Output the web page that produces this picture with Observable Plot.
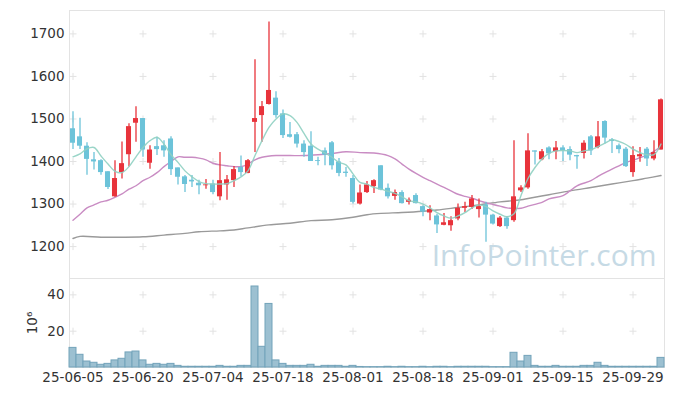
<!DOCTYPE html>
<html><head><meta charset="utf-8">
<script src="https://cdn.jsdelivr.net/npm/d3@7"></script>
<script src="https://cdn.jsdelivr.net/npm/@observablehq/plot@0.6"></script>
<style>
body{margin:0;background:#fff;}
#chart{position:relative;width:673px;height:396px;font-family:"DejaVu Sans",sans-serif;}
#chart svg{position:absolute;left:0;}
</style></head><body><div id="chart"></div>
<script>
// --- data ---
const openP  = [1477,1458,1436,1404,1402,1376,1317,1374,1416,1490,1501,1396,1435,1437,1453,1385,1364,1356,1349,1343,1347,1317,1345,1355,1386,1372,1492,1508,1534,1549,1512,1463,1463,1441,1436,1402,1425,1444,1399,1375,1360,1300,1327,1341,1390,1337,1318,1327,1304,1320,1294,1279,1272,1250,1249,1265,1290,1292,1287,1298,1274,1247,1267,1261,1331,1338,1425,1404,1432,1423,1432,1428,1414,1419,1458,1433,1494,1451,1437,1429,1374,1411,1429,1406,1427];
const highP  = [1517,1502,1444,1421,1404,1376,1402,1446,1489,1529,1501,1437,1457,1449,1458,1385,1367,1367,1356,1358,1356,1421,1367,1388,1413,1405,1639,1541,1728,1564,1521,1492,1468,1449,1470,1410,1432,1447,1407,1386,1367,1345,1353,1357,1390,1347,1333,1331,1314,1324,1296,1296,1276,1278,1270,1300,1304,1320,1312,1304,1276,1271,1271,1449,1343,1465,1425,1428,1435,1447,1437,1435,1415,1449,1461,1494,1496,1454,1441,1433,1435,1433,1433,1449,1547];
const lowP   = [1428,1428,1368,1380,1368,1334,1316,1359,1387,1445,1410,1382,1414,1410,1367,1345,1327,1339,1322,1335,1322,1308,1309,1339,1364,1371,1421,1445,1533,1502,1454,1455,1432,1410,1400,1390,1390,1380,1364,1363,1300,1298,1325,1325,1331,1312,1309,1300,1298,1300,1270,1261,1231,1249,1236,1261,1280,1287,1267,1210,1251,1245,1241,1257,1327,1335,1392,1402,1404,1404,1400,1402,1382,1406,1414,1430,1441,1419,1418,1386,1363,1398,1388,1402,1427];
const closeP = [1443,1436,1405,1399,1374,1339,1360,1395,1482,1501,1427,1427,1428,1425,1381,1363,1346,1352,1343,1345,1327,1355,1357,1381,1374,1402,1501,1529,1567,1508,1461,1457,1441,1421,1400,1400,1415,1390,1372,1372,1304,1326,1345,1355,1333,1317,1327,1301,1309,1301,1281,1287,1251,1256,1261,1290,1294,1312,1294,1274,1253,1267,1247,1317,1338,1425,1422,1423,1418,1432,1425,1415,1411,1443,1425,1458,1455,1447,1428,1388,1414,1416,1406,1421,1545];
const volume = [10.8,7.0,3.3,2.6,1.5,2.0,3.9,4.8,8.3,8.8,3.9,1.5,2.0,1.5,2.0,0.9,0.4,0.4,0.4,0.4,0.4,0.9,0.4,0.4,0.9,0.9,44.6,11.4,35.0,3.9,2.0,0.9,0.9,0.9,1.5,0.4,0.9,0.9,0.9,0.4,0.9,0.3,0.2,0.2,0.2,0.4,0.2,0.4,0.2,0.2,0.4,0.2,0.4,0.4,0.2,0.4,0.4,0.4,0.4,0.4,0.2,0.2,0.2,8.1,3.3,6.4,0.9,0.4,0.4,0.9,0.4,0.4,0.4,0.9,0.9,2.6,0.9,0.4,0.4,0.4,0.4,0.4,0.4,0.4,5.3];
const ma5 = [1411,1418,1430,1433,1413,1394,1377,1374,1388,1411,1433,1449,1457,1441,1416,1398,1378,1364,1353,1348,1347,1347,1348,1355,1364,1378,1414,1449,1480,1500,1512,1508,1492,1466,1441,1429,1420,1410,1398,1392,1371,1351,1347,1339,1335,1330,1325,1317,1308,1305,1300,1291,1280,1272,1267,1272,1280,1291,1298,1294,1284,1276,1270,1277,1320,1360,1386,1406,1419,1425,1426,1425,1421,1425,1428,1435,1443,1451,1447,1440,1429,1421,1416,1416,1441];
const ma20Idx = [0,1,2,3,4,5,6,7,8,9,10,11,12,13,14,15,16,17,18,19,20,21,22,23,24,25,26,27,29,31,33,35,37,39,41,43,45,46,47,48,49,50,51,52,53,54,55,56,57,58,59,60,61,62,63,64,65,67,68,70,71,72,74,75,76,77,78,79,80,81,82,83,84];
const ma20Val = [1262,1276,1291,1298,1305,1309,1316,1324,1335,1343,1355,1363,1374,1388,1400,1411,1410,1410,1408,1404,1396,1392,1390,1388,1388,1394,1404,1410,1414,1414,1414,1416,1419,1423,1421,1420,1414,1406,1394,1382,1372,1363,1355,1347,1339,1331,1323,1318,1314,1308,1303,1299,1295,1291,1290,1290,1295,1304,1312,1320,1331,1343,1355,1365,1374,1382,1390,1398,1403,1409,1415,1424,1436];
const ma60Idx = [0,1,4,7,10,13,16,18,21,23,25,28,31,34,37,40,42,44,47,50,52,55,58,61,64,65,68,71,74,77,80,82,84];
const ma60Val = [1219,1224,1222,1222,1223,1227,1231,1235,1237,1239,1244,1251,1255,1261,1263,1269,1275,1278,1280,1283,1286,1292,1298,1305,1310,1313,1322,1331,1339,1347,1355,1361,1367];
const tickIdx = [0,10,20,30,40,50,60,70,80];
const tickLabels = ["25-06-05","25-06-20","25-07-04","25-07-18","25-08-01","25-08-18","25-09-01","25-09-15","25-09-29"];
const priceTicks = [1200,1300,1400,1500,1600,1700];
const volTicks = [20,40];

// --- build tables ---
const UP = "#e8333b", DOWN = "#6cc3d9";
const candles = openP.map((o,i)=>({i, open:o, high:highP[i], low:lowP[i], close:closeP[i], vol:volume[i],
  col: closeP[i] >= o ? UP : DOWN}));
const ma5Data = ma5.map((v,i)=>({i, v}));
const ma20Data = ma20Idx.map((i,k)=>({i, v:ma20Val[k]}));
const ma60Data = ma60Idx.map((i,k)=>({i, v:ma60Val[k]}));
const mainGrid = tickIdx.flatMap(i=>priceTicks.map(p=>({i,p})));
const volGrid = tickIdx.flatMap(i=>volTicks.map(p=>({i,p})));

const xDom = [-0.5, 84.5];
const FS = 13.5;
const style = {fontFamily:"DejaVu Sans, sans-serif", fontSize:"13px", color:"#333", background:"transparent", overflow:"visible"};

const main = Plot.plot({
  width:673, height:278, marginTop:10, marginBottom:0, marginLeft:69, marginRight:9,
  style,
  x:{domain:xDom, axis:null},
  y:{domain:[1125,1755], axis:null},
  color:{type:"identity"},
  marks:[
    Plot.frame({stroke:"#e3e3e3"}),
    Plot.dot(mainGrid,{x:"i", y:"p", symbol:"plus", r:2.4, stroke:"#e2e2e2", strokeWidth:1}),
    Plot.text(["InfoPointer.com"],{frameAnchor:"bottom-right", dx:-8, dy:-22, lineAnchor:"middle", text:d=>d,
      fontSize:30, fontFamily:"Open Sans, sans-serif", fill:"#c6dae5"}),
    Plot.line(ma60Data,{x:"i", y:"v", stroke:"#9a9a9a", strokeWidth:1.4, curve:"catmull-rom"}),
    Plot.line(ma20Data,{x:"i", y:"v", stroke:"#c98cc3", strokeWidth:1.4, curve:"catmull-rom"}),
    Plot.ruleX(candles,{x:"i", y1:"low", y2:"high", stroke:"col", strokeWidth:1.3}),
    Plot.rect(candles,{x1:d=>d.i-0.36, x2:d=>d.i+0.36, y1:"open", y2:d=>(Math.abs(d.close-d.open)<2 ? d.open+2 : d.close), fill:"col"}),
    Plot.line(ma5Data,{x:"i", y:"v", stroke:"#8fd0c2", strokeWidth:1.4, curve:"catmull-rom", strokeOpacity:0.9}),
    Plot.axisY({ticks:priceTicks, tickFormat:d=>String(d), tickSize:0, tickPadding:5, label:null, fontSize:FS})
  ]
});
main.style.top = "0px";

const vol = Plot.plot({
  width:673, height:118, marginTop:0, marginBottom:29, marginLeft:69, marginRight:9,
  style,
  x:{domain:xDom, axis:null},
  y:{domain:[0,49], axis:null},
  marks:[
    Plot.frame({stroke:"#e3e3e3"}),
    Plot.dot(volGrid,{x:"i", y:"p", symbol:"plus", r:2.4, stroke:"#e2e2e2", strokeWidth:1}),
    Plot.rect(candles,{x1:d=>d.i-0.5, x2:d=>d.i+0.5, y1:0, y2:"vol", fill:"#9cc0d1", stroke:"#73a3ba", strokeWidth:1}),
    Plot.axisY({ticks:volTicks, tickFormat:d=>String(d), tickSize:0, tickPadding:5, label:"10⁶", labelAnchor:"center", labelArrow:"none", labelOffset:42, fontSize:FS}),
    Plot.axisX({ticks:tickIdx, tickFormat:i=>tickLabels[tickIdx.indexOf(i)], tickSize:0, tickPadding:5, label:null, fontSize:FS})
  ]
});
vol.style.top = "278px";

const root = document.getElementById("chart");
root.append(main, vol);
</script>
</body></html>
